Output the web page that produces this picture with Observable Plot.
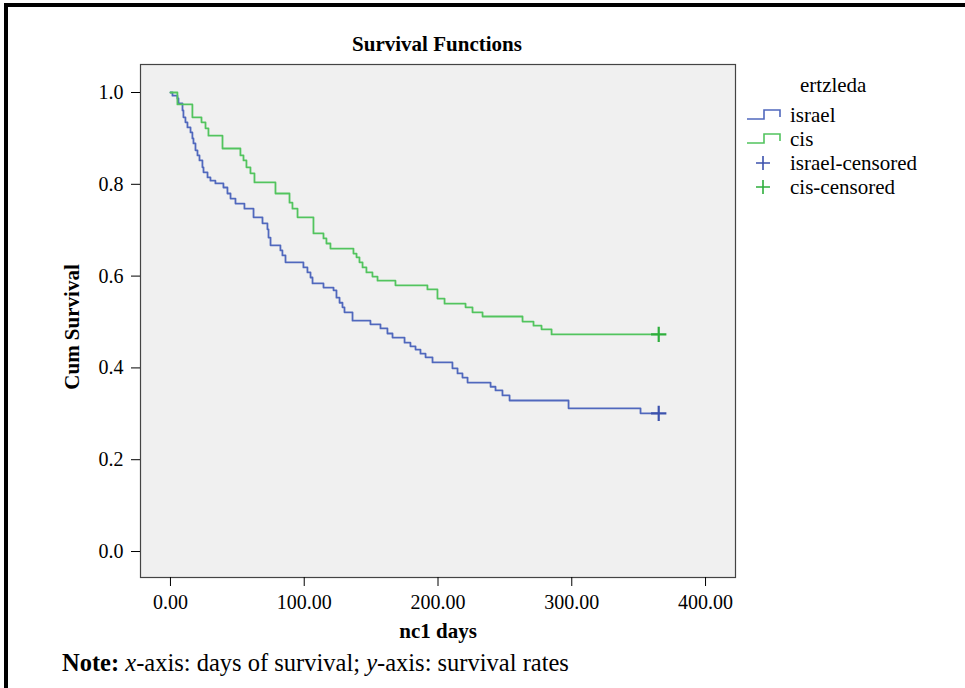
<!DOCTYPE html>
<html>
<head>
<meta charset="utf-8">
<script src="https://cdn.jsdelivr.net/npm/d3@7"></script>
<script src="https://cdn.jsdelivr.net/npm/@observablehq/plot@0.6"></script>
<style>
  html, body { margin: 0; padding: 0; background: #fff; }
  #wrap { position: relative; width: 965px; height: 688px; overflow: hidden; font-family: "Liberation Serif", "Times New Roman", serif; color: #000; }
  #border { position: absolute; left: 4px; top: 3px; width: 980px; height: 700px; border-top: 4px solid #000; border-left: 4px solid #000; }
  #title { position: absolute; left: 137px; width: 600px; top: 31px; text-align: center; font-weight: bold; font-size: 21px; line-height: 26px; }
  #chart { position: absolute; left: 0; top: 0; }
  #legend { position: absolute; left: 744px; top: 73px; font-size: 21px; line-height: 24px; }
  #legend .head { padding-left: 56px; margin-bottom: 6px; }
  #legend .row { display: flex; align-items: center; height: 24px; }
  #legend .row svg { width: 40px; height: 20px; margin-right: 6px; }
  #note { position: absolute; left: 62px; top: 648px; font-size: 24.5px; line-height: 30px; }
  #chart svg [aria-label="x-axis label"] text, #chart svg [aria-label="y-axis label"] text { font-weight: bold; font-size: 21px; }
</style>
</head>
<body>
<div id="wrap">
  <div id="border"></div>
  <div id="title">Survival Functions</div>
  <div id="chart"></div>
  <div id="legend"></div>
  <div id="note"><b>Note:</b> <i>x</i>-axis: days of survival; <i>y</i>-axis: survival rates</div>
</div>
<script>
// ---- data ----
const groups = ["israel", "cis"];
const legendTitle = "ertzleda";
const xTicks = [0, 100, 200, 300, 400];
const yTicks = [0, 0.2, 0.4, 0.6, 0.8, 1.0];

const israelTimes = [0, 1.5, 5.2, 6.0, 9.0, 9.7, 11.2, 12.7, 15.0, 16.4, 17.2, 18.7, 20.2, 21.7, 23.9, 24.7, 27.7, 29.9, 33.6, 39.6, 42.6, 44.9, 48.6, 55.3, 62.1, 68.8, 72.5, 73.3, 74.8, 82.2, 83.7, 86.0, 99.4, 102.4, 104.7, 106.2, 114.4, 121.9, 124.1, 126.4, 128.6, 130.1, 136.1, 149.5, 157.0, 162.2, 166.0, 175.0, 179.4, 183.2, 186.9, 190.7, 195.9, 210.8, 214.6, 218.3, 222.1, 239.3, 243.0, 248.2, 253.5, 297.6, 351.4];
const israelSurv  = [1.0, 0.993, 0.987, 0.976, 0.961, 0.946, 0.935, 0.924, 0.913, 0.900, 0.889, 0.874, 0.863, 0.852, 0.837, 0.826, 0.815, 0.808, 0.802, 0.793, 0.780, 0.769, 0.758, 0.747, 0.728, 0.715, 0.702, 0.684, 0.667, 0.656, 0.645, 0.630, 0.619, 0.608, 0.597, 0.584, 0.575, 0.569, 0.553, 0.542, 0.532, 0.521, 0.503, 0.495, 0.486, 0.475, 0.466, 0.455, 0.447, 0.440, 0.431, 0.423, 0.412, 0.399, 0.388, 0.379, 0.368, 0.359, 0.351, 0.340, 0.329, 0.312, 0.301];

const cisTimes = [0, 5.2, 16.4, 23.2, 26.2, 28.4, 38.9, 52.3, 54.6, 56.8, 59.8, 62.8, 78.5, 89.0, 91.2, 95.0, 106.9, 114.4, 116.6, 119.6, 136.8, 139.1, 141.3, 143.6, 146.5, 151.0, 154.8, 168.2, 192.1, 199.6, 204.9, 220.6, 225.8, 233.3, 263.2, 271.4, 277.4, 284.9];
const cisSurv  = [1.0, 0.974, 0.946, 0.935, 0.922, 0.906, 0.878, 0.863, 0.852, 0.837, 0.824, 0.804, 0.780, 0.760, 0.747, 0.728, 0.693, 0.682, 0.671, 0.660, 0.649, 0.641, 0.630, 0.619, 0.608, 0.599, 0.590, 0.580, 0.571, 0.551, 0.540, 0.532, 0.521, 0.512, 0.501, 0.492, 0.484, 0.473];

const censorTime = 365;

const lineColors = { israel: "#5068bd", cis: "#52c45e" };
const censorColors = { israel: "#3c52ad", cis: "#2eae3c" };

// ---- build tables ----
function steps(times, surv, group) {
  const rows = times.map((t, i) => ({ t, s: surv[i], group }));
  rows.push({ t: censorTime, s: surv[surv.length - 1], group });
  return rows;
}
const israel = steps(israelTimes, israelSurv, "israel");
const cis = steps(cisTimes, cisSurv, "cis");
const censored = [
  { t: censorTime, s: israelSurv[israelSurv.length - 1], group: "israel" },
  { t: censorTime, s: cisSurv[cisSurv.length - 1], group: "cis" }
];

const chart = Plot.plot({
  width: 965,
  height: 688,
  marginLeft: 140,
  marginRight: 230,
  marginTop: 64,
  marginBottom: 111,
  x: { domain: [-22.4, 422.4] },
  y: { domain: [-0.0566, 1.061] },
  style: { background: "transparent", fontFamily: "Liberation Serif, serif", fontSize: "20px", color: "#000" },
  marks: [
    Plot.frame({ fill: "#f0f0f0", stroke: "#444", strokeWidth: 1.2 }),
    Plot.axisX({ ticks: xTicks, tickFormat: d => d.toFixed(2), tickSize: 9, tickPadding: 8, label: "nc1 days", labelAnchor: "center", labelOffset: 60, labelArrow: "none" }),
    Plot.axisY({ ticks: yTicks, tickFormat: d => d.toFixed(1), tickSize: 9, tickPadding: 8, label: "Cum Survival", labelAnchor: "center", labelOffset: 76, labelArrow: "none" }),
    Plot.line(israel, { x: "t", y: "s", curve: "step-after", stroke: lineColors.israel, strokeWidth: 1.8 }),
    Plot.line(cis, { x: "t", y: "s", curve: "step-after", stroke: lineColors.cis, strokeWidth: 1.8 }),
    Plot.dot(censored, { x: "t", y: "s", symbol: "plus", r: 5, strokeWidth: 2.2, stroke: d => censorColors[d.group] })
  ]
});
// nudge the y-axis title slightly down (rotated text: negative dx moves it down)
d3.select(chart).select('[aria-label="y-axis label"] text').attr("dx", -6);
document.getElementById("chart").appendChild(chart);

// ---- legend ----
const legend = document.getElementById("legend");
const head = document.createElement("div");
head.className = "head";
head.textContent = legendTitle;
legend.appendChild(head);
const items = [
  ...groups.map(g => ({ label: g, type: "line", color: lineColors[g] })),
  ...groups.map(g => ({ label: g + "-censored", type: "plus", color: censorColors[g] }))
];
for (const it of items) {
  const row = document.createElement("div");
  row.className = "row";
  const svg = d3.create("svg").attr("viewBox", "0 0 40 20");
  if (it.type === "line") {
    svg.append("path").attr("d", "M3,14H20V5H36V12").attr("fill", "none").attr("stroke", it.color).attr("stroke-width", 1.6);
  } else {
    svg.append("path").attr("d", "M19,3V17M12,10H26").attr("fill", "none").attr("stroke", it.color).attr("stroke-width", 1.6);
  }
  row.appendChild(svg.node());
  const span = document.createElement("span");
  span.textContent = it.label;
  row.appendChild(span);
  legend.appendChild(row);
}
</script>
</body>
</html>
